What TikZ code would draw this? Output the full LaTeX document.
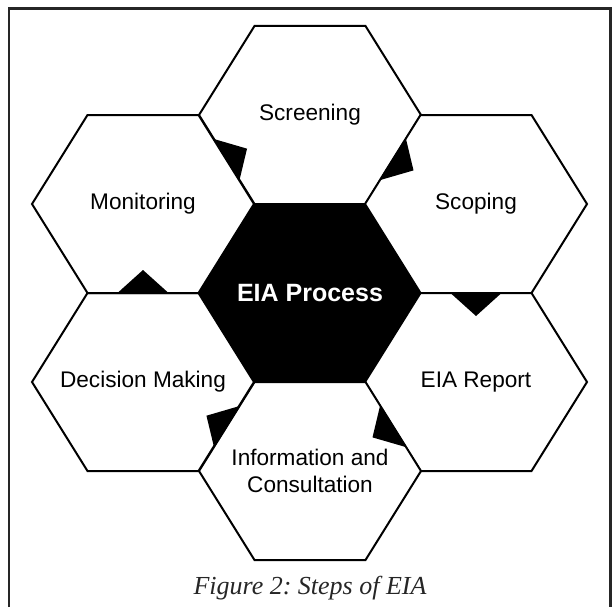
\documentclass[tikz,border=0pt]{standalone}
\usepackage{fontspec}
\setmainfont{Liberation Serif}
\setsansfont{Liberation Sans}
\usetikzlibrary{calc,backgrounds}
\frenchspacing

\begin{document}
\begin{tikzpicture}[x=1pt,y=-1pt,
		steplabel/.style={font=\sffamily\fontsize{22.6}{26.5}\selectfont,align=center},
		corelabel/.style={font=\sffamily\bfseries\fontsize{25}{30}\selectfont,text=white},
		figcaption/.style={font=\itshape\fontsize{26}{30}\selectfont,text=black!85,anchor=base},
		hexline/.style={draw=black,line width=2pt,line join=miter},
		flowtip/.style={fill=black}
		]
	\useasboundingbox (0,0) rectangle (612,607);
	\draw[line width=2.5pt,draw=black!85] (9,607) -- (9,8.7) -- (610.5,8.7) -- (610.5,607);

	\node[corelabel](core) at (310,293){EIA Process};
	\node[steplabel](scr) at (310,115){Screening};
	\node[steplabel](scop) at (476,204){Scoping};
	\node[steplabel](rep) at (476,382){EIA Report};
	\node[steplabel](info) at (310,471){Information and\\Consultation};
	\node[steplabel](dec) at (143,382){Decision Making};
	\node[steplabel](mon) at (143,204){Monitoring};
	\node[figcaption](cap) at (310,594){Figure 2: Steps of EIA};

	% hexagon cells behind the labels
	\begin{scope}[on background layer]
		\foreach \hx/\fc in {core/black,scr/white,scop/white,rep/white,info/white,dec/white,mon/white}
			\draw[hexline,fill=\fc] (\hx.center) ++(-111,0) coordinate(\hx-l)
				-- ++(55.5,-89) coordinate(\hx-tl) -- ++(111,0) coordinate(\hx-tr)
				-- ++(55.5,89) coordinate(\hx-r) -- ++(-55.5,89) coordinate(\hx-br)
				-- ++(-111,0) coordinate(\hx-bl) -- cycle;
	\end{scope}

	% flow markers on the shared edges
	\foreach \va/\vb/\nxt in {scr-l/scr-bl/scr,scr-r/scr-br/scop,scop-bl/scop-br/rep,
			rep-l/rep-bl/info,info-l/info-tl/dec,dec-tl/dec-tr/mon}
		\fill[flowtip] ($(\va)!.27!(\vb)$) -- ($(\va)!.73!(\vb)$)
			-- ($($(\va)!.5!(\vb)$)!23pt!(\nxt.center)$) -- cycle;
\end{tikzpicture}
\end{document}
